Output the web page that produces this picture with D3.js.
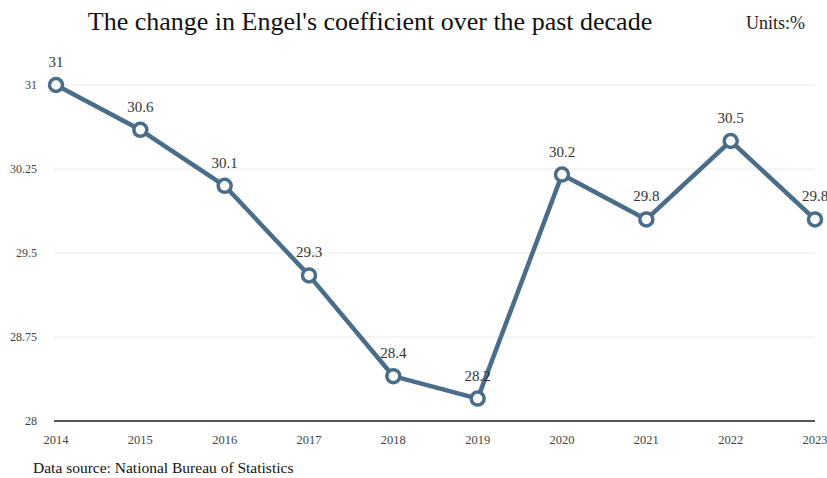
<!DOCTYPE html>
<html><head><meta charset="utf-8">
<script src="https://cdn.jsdelivr.net/npm/d3@7"></script>
<style>body{margin:0;background:#fff}svg{display:block}</style>
</head><body>
<svg id="c" width="827" height="478"></svg>
<script>
const years = ["2014","2015","2016","2017","2018","2019","2020","2021","2022","2023"];
const values = [31, 30.6, 30.1, 29.3, 28.4, 28.2, 30.2, 29.8, 30.5, 29.8];
const yTicks = [28, 28.75, 29.5, 30.25, 31];
const title = "The change in Engel's coefficient over the past decade";
const units = "Units:%";
const source = "Data source: National Bureau of Statistics";

const svg = d3.select("#c");
const font = "'Liberation Serif','Times New Roman',serif";
const x = d3.scalePoint().domain(years).range([56, 815]);
const y = d3.scaleLinear().domain([28, 31]).range([421, 85]);
const color = "#4a6e8a";

svg.append("g").selectAll("line").data(yTicks.slice(1)).join("line")
  .attr("x1", 54).attr("x2", 815)
  .attr("y1", d => y(d)).attr("y2", d => y(d))
  .attr("stroke", "#e8e8e8").attr("stroke-width", 1);
svg.append("line").attr("x1", 54).attr("x2", 815).attr("y1", y(28)).attr("y2", y(28))
  .attr("stroke", "#555").attr("stroke-width", 2);

svg.append("g").selectAll("text").data(yTicks).join("text")
  .attr("x", 37).attr("y", d => y(d) + 4).attr("text-anchor", "end")
  .attr("font-family", font).attr("font-size", 12).attr("fill", "#444")
  .text(d => d);
svg.append("g").selectAll("text").data(years).join("text")
  .attr("x", d => x(d)).attr("y", 444).attr("text-anchor", "middle")
  .attr("font-family", font).attr("font-size", 12.5).attr("fill", "#444")
  .text(d => d);

const line = d3.line().x((d, i) => x(years[i])).y(d => y(d));
svg.append("path").datum(values).attr("d", line)
  .attr("fill", "none").attr("stroke", color).attr("stroke-width", 4.5)
  .attr("stroke-linejoin", "round");
svg.append("g").selectAll("circle").data(values).join("circle")
  .attr("cx", (d, i) => x(years[i])).attr("cy", d => y(d)).attr("r", 6.5)
  .attr("fill", "#fff").attr("stroke", color).attr("stroke-width", 3.5);

svg.append("g").selectAll("text").data(values).join("text")
  .attr("x", (d, i) => x(years[i])).attr("y", d => y(d) - 18).attr("text-anchor", "middle")
  .attr("font-family", font).attr("font-size", 15).attr("fill", "#333")
  .text(d => d);

svg.append("text").attr("x", 370).attr("y", 30).attr("text-anchor", "middle")
  .attr("font-family", font).attr("font-size", 26).attr("fill", "#111").text(title);
svg.append("text").attr("x", 805).attr("y", 29).attr("text-anchor", "end")
  .attr("font-family", font).attr("font-size", 18).attr("fill", "#222").text(units);
svg.append("text").attr("x", 33).attr("y", 473)
  .attr("font-family", font).attr("font-size", 15.5).attr("fill", "#111").text(source);
</script>
</body></html>
